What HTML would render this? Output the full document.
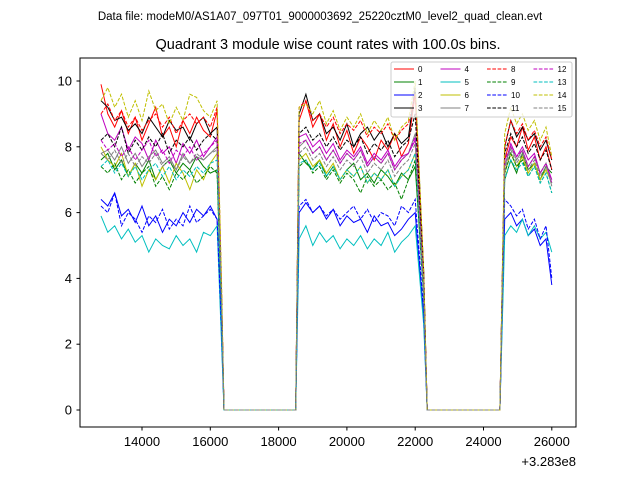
<!DOCTYPE html>
<html><head><meta charset="utf-8"><style>
body{margin:0;background:#fff;}
svg{font-family:"Liberation Sans","DejaVu Sans",sans-serif;}
</style></head><body>
<svg width="640" height="480" viewBox="0 0 640 480">
<rect width="640" height="480" fill="#fff"/>
<text x="320" y="20" text-anchor="middle" font-size="11.5">Data file: modeM0/AS1A07_097T01_9000003692_25220cztM0_level2_quad_clean.evt</text>
<text x="328" y="49" text-anchor="middle" font-size="14.5">Quadrant 3 module wise count rates with 100.0s bins.</text>
<g id="plot"></g>
<rect x="80" y="58" width="496" height="369" fill="none" stroke="#000" stroke-width="1"/>
<g id="axes"></g>
<text x="576" y="466" text-anchor="end" font-size="13">+3.283e8</text>
<g id="legend"></g>
</svg>
<script>
const times=[12800,13000,13200,13400,13600,13800,14000,14200,14400,14600,14800,15000,15200,15400,15600,15800,16000,16200,16330,16400,16700,17000,17300,17600,17900,18200,18350,18500,18600,18800,19000,19200,19400,19600,19800,20000,20200,20400,20600,20800,21000,21200,21400,21600,21800,22000,22250,22350,22600,22800,23000,23200,23400,23600,23800,24000,24200,24480,24620,24800,24970,25140,25310,25490,25660,25830,26000];
const xTicks = [14000,16000,18000,20000,22000,24000,26000];
const yTicks = [0,2,4,6,8,10];
const colors = ['#ff0000','#008000','#0000ff','#000000','#bf00bf','#00bfbf','#bfbf00','#808080'];
const s0=[9.9,9.0,8.6,9.1,8.4,8.9,8.2,8.7,9.2,8.3,8.6,8.0,8.8,8.4,8.9,8.5,8.3,9.1,3.5,0,0,0,0,0,0,0,0,0,8.8,9.4,8.6,9.0,8.2,8.7,8.0,8.5,7.8,8.3,8.0,7.6,8.2,7.9,8.4,7.7,8.1,9.6,4.0,0,0,0,0,0,0,0,0,0,0,0,7.6,8.3,8.0,8.6,7.9,8.3,7.6,8.0,7.3];
const s1=[7.6,7.8,7.3,7.6,7.1,7.5,7.2,7.6,7.0,7.4,7.6,7.2,7.5,7.3,7.7,7.4,7.2,7.3,2.8,0,0,0,0,0,0,0,0,0,7.8,7.5,7.3,7.6,7.1,7.4,7.0,7.3,7.5,7.0,7.2,6.9,7.3,7.1,6.8,7.2,7.0,7.4,3.5,0,0,0,0,0,0,0,0,0,0,0,7.0,7.6,7.2,7.8,7.3,7.5,7.0,7.4,7.2];
const s2=[6.4,6.2,6.6,5.9,6.1,5.7,6.2,5.6,5.9,5.4,5.8,5.6,6.0,5.7,6.1,5.9,6.2,5.8,2.2,0,0,0,0,0,0,0,0,0,6.0,6.3,6.0,6.2,5.8,6.1,5.6,5.9,5.7,5.8,5.4,5.9,5.6,5.7,5.3,5.5,5.8,6.0,2.8,0,0,0,0,0,0,0,0,0,0,0,5.8,6.0,5.6,5.8,5.3,5.5,5.0,5.2,3.8];
const s3=[9.4,9.2,8.8,8.9,8.5,8.7,8.4,8.9,8.6,8.3,8.8,8.5,8.6,8.2,8.7,8.9,8.4,8.6,3.4,0,0,0,0,0,0,0,0,0,9.0,9.6,8.8,9.0,8.4,8.6,8.2,8.7,8.0,8.4,8.6,8.2,8.5,8.0,8.4,8.1,8.3,9.8,4.2,0,0,0,0,0,0,0,0,0,0,0,8.0,8.8,8.3,8.6,8.2,8.4,7.9,8.2,7.6];
const s4=[9.0,8.4,8.2,8.6,7.9,8.3,8.1,7.6,8.2,7.8,8.0,7.5,8.1,7.8,8.2,7.7,8.0,8.3,3.2,0,0,0,0,0,0,0,0,0,8.3,8.4,8.0,8.2,7.8,8.1,7.6,7.9,7.7,8.0,7.5,7.8,7.6,7.9,7.4,7.7,7.8,8.2,3.8,0,0,0,0,0,0,0,0,0,0,0,7.4,8.1,7.7,8.0,7.6,7.8,7.2,7.5,7.0];
const s5=[5.9,5.4,5.6,5.2,5.5,5.1,5.3,4.8,5.2,5.0,4.9,5.3,5.0,5.2,4.8,5.4,5.3,5.6,2.0,0,0,0,0,0,0,0,0,0,5.2,5.6,5.0,5.4,5.1,5.3,4.9,5.2,5.0,5.3,4.9,5.2,5.0,5.4,4.8,5.1,5.3,5.6,2.6,0,0,0,0,0,0,0,0,0,0,0,5.3,5.6,5.4,5.8,5.3,5.6,5.2,5.4,4.8];
const s6=[8.0,7.6,7.4,7.8,7.1,7.5,6.8,7.3,7.0,7.4,6.9,7.5,7.2,6.7,7.3,7.0,7.5,7.8,3.0,0,0,0,0,0,0,0,0,0,7.6,7.8,7.4,7.6,7.2,7.5,7.0,7.3,7.1,7.4,6.9,7.2,7.0,7.3,6.8,7.1,7.3,7.8,3.6,0,0,0,0,0,0,0,0,0,0,0,7.2,7.8,7.4,7.7,7.2,7.5,7.0,7.3,6.9];
const s7=[7.8,7.9,7.6,8.0,7.5,7.8,7.4,7.7,7.9,7.5,7.7,7.3,7.8,7.5,7.7,7.6,7.8,8.0,3.1,0,0,0,0,0,0,0,0,0,8.0,8.2,7.8,8.0,7.6,7.9,7.5,7.8,7.6,7.9,7.4,7.7,7.5,7.8,7.3,7.6,7.8,8.4,3.8,0,0,0,0,0,0,0,0,0,0,0,7.4,8.0,7.6,7.9,7.4,7.7,7.2,7.5,6.8];
const s8=[9.0,9.3,8.8,9.1,8.6,8.9,8.5,8.8,9.0,8.6,8.9,8.4,8.8,9.0,8.7,8.9,8.6,9.2,3.6,0,0,0,0,0,0,0,0,0,9.2,9.4,8.8,9.0,8.6,8.9,8.4,8.7,8.5,8.8,8.3,8.6,8.4,8.7,8.2,8.5,8.7,9.6,4.2,0,0,0,0,0,0,0,0,0,0,0,8.0,8.8,8.4,8.7,8.2,8.5,8.0,8.3,7.6];
const s9=[7.4,7.2,7.5,7.0,7.3,6.9,7.2,7.4,6.8,7.1,6.7,7.2,7.0,7.3,6.9,7.1,7.4,7.2,2.9,0,0,0,0,0,0,0,0,0,7.4,7.6,7.2,7.4,7.0,7.3,6.9,7.2,7.0,6.6,7.1,6.8,7.0,6.7,6.9,6.4,7.0,7.6,3.4,0,0,0,0,0,0,0,0,0,0,0,7.2,7.8,7.4,7.6,7.1,7.4,6.9,7.2,6.6];
const s10=[6.2,6.0,6.6,5.6,6.0,5.8,5.4,5.9,5.7,6.1,5.5,5.8,5.6,6.2,5.7,5.9,6.1,5.8,2.4,0,0,0,0,0,0,0,0,0,6.2,6.4,6.0,6.2,5.9,6.1,5.8,6.0,6.2,5.8,6.1,5.7,6.0,5.9,5.6,6.2,6.0,6.4,3.0,0,0,0,0,0,0,0,0,0,0,0,6.4,6.2,5.9,6.1,5.5,5.8,5.2,5.6,4.0];
const s11=[8.2,8.4,8.0,8.6,7.8,8.2,7.9,8.3,8.0,8.4,7.8,8.2,8.0,8.3,7.9,8.2,8.4,8.2,3.3,0,0,0,0,0,0,0,0,0,8.4,8.6,8.2,8.4,8.0,8.3,7.9,8.2,8.0,8.3,7.8,8.1,7.9,8.2,7.7,8.0,8.2,9.0,4.0,0,0,0,0,0,0,0,0,0,0,0,7.8,8.4,8.0,8.3,7.8,8.1,7.6,7.9,7.3];
const s12=[8.2,7.9,8.1,7.7,8.0,7.6,7.9,8.2,7.7,7.9,7.5,7.9,7.7,8.0,7.6,7.8,8.0,8.2,3.2,0,0,0,0,0,0,0,0,0,8.1,8.2,7.8,8.0,7.6,7.9,7.5,7.8,7.6,7.9,7.4,7.7,7.5,7.8,7.3,7.6,7.8,8.3,3.7,0,0,0,0,0,0,0,0,0,0,0,7.6,8.0,7.7,7.9,7.4,7.7,7.2,7.5,6.9];
const s13=[7.4,7.6,7.2,7.5,7.1,7.4,7.0,7.3,7.5,7.1,7.4,7.0,7.3,7.1,7.4,7.2,7.5,7.6,3.0,0,0,0,0,0,0,0,0,0,7.5,7.6,7.3,7.5,7.1,7.4,7.0,7.3,7.1,7.4,6.9,7.2,7.0,7.3,6.8,7.1,7.3,7.8,3.5,0,0,0,0,0,0,0,0,0,0,0,7.0,7.6,7.3,7.5,7.1,7.4,6.9,7.2,6.6];
const s14=[9.4,9.8,9.2,9.6,8.9,9.4,8.8,9.7,9.1,9.3,8.7,9.2,8.8,9.6,9.5,9.1,8.9,9.4,3.8,0,0,0,0,0,0,0,0,0,9.2,9.3,9.0,9.4,8.7,9.1,8.5,8.9,8.6,9.0,8.4,8.8,8.5,8.9,8.2,8.6,8.8,10.0,4.2,0,0,0,0,0,0,0,0,0,0,0,8.4,9.2,8.7,9.0,8.5,8.8,8.2,8.6,7.7];
const s15=[7.8,7.6,7.9,7.5,7.8,7.4,7.7,7.5,7.8,7.4,7.6,7.3,7.7,7.5,7.8,7.6,7.8,7.9,3.1,0,0,0,0,0,0,0,0,0,7.8,8.0,7.6,7.8,7.4,7.7,7.3,7.6,7.4,7.7,7.2,7.5,7.3,7.6,7.1,7.4,7.6,8.1,3.6,0,0,0,0,0,0,0,0,0,0,0,7.3,7.9,7.5,7.8,7.3,7.6,7.1,7.4,6.9];
const series=[s0,s1,s2,s3,s4,s5,s6,s7,s8,s9,s10,s11,s12,s13,s14,s15];

const NS='http://www.w3.org/2000/svg';
function X(v){return 142+(v-14000)*(68.3/2000);}
function Y(v){return 410-v*32.9;}
function mk(tag,attrs,parent){const e=document.createElementNS(NS,tag);for(const k in attrs)e.setAttribute(k,attrs[k]);parent.appendChild(e);return e;}
const plot=document.getElementById('plot');
series.forEach((s,k)=>{
  const pts=s.map((v,i)=>X(times[i]).toFixed(1)+','+Y(v).toFixed(1)).join(' ');
  const pl=mk('polyline',{points:pts,fill:'none',stroke:colors[k%8],'stroke-width':1,'stroke-dasharray':k>=8?'3.7,1.6':'none'},plot);
  
  
});
const axes=document.getElementById('axes');
xTicks.forEach(v=>{
  const l=mk('line',{x1:X(v),x2:X(v),y1:427,y2:430.5,stroke:'#000'},axes);
  
  
  const t=mk('text',{x:X(v),y:446,'text-anchor':'middle','font-size':13},axes);
  t.textContent=v;
  
  
});
yTicks.forEach(v=>{
  const l=mk('line',{x1:76.5,x2:80,y1:Y(v),y2:Y(v),stroke:'#000'},axes);
  
  
  const t=mk('text',{x:72,y:Y(v)+4.5,'text-anchor':'end','font-size':13},axes);
  t.textContent=v;
  
  
});
const leg=document.getElementById('legend');
const box=mk('rect',{x:391,y:62,width:181,height:55,rx:2,fill:'#fff','fill-opacity':0.8,stroke:'#ccc'},leg);


for(let k=0;k<16;k++){
  const col=Math.floor(k/4),row=k%4;
  const x=394+col*46.5,y=69+row*13;
  const l=mk('line',{x1:x,x2:x+20,y1:y,y2:y,stroke:colors[k%8],'stroke-width':1,'stroke-dasharray':k>=8?'3.7,1.6':'none'},leg);
  
  
  const t=mk('text',{x:x+24,y:y+3,'font-size':8},leg);
  t.textContent=k;
  
  
}
</script>
</body></html>
